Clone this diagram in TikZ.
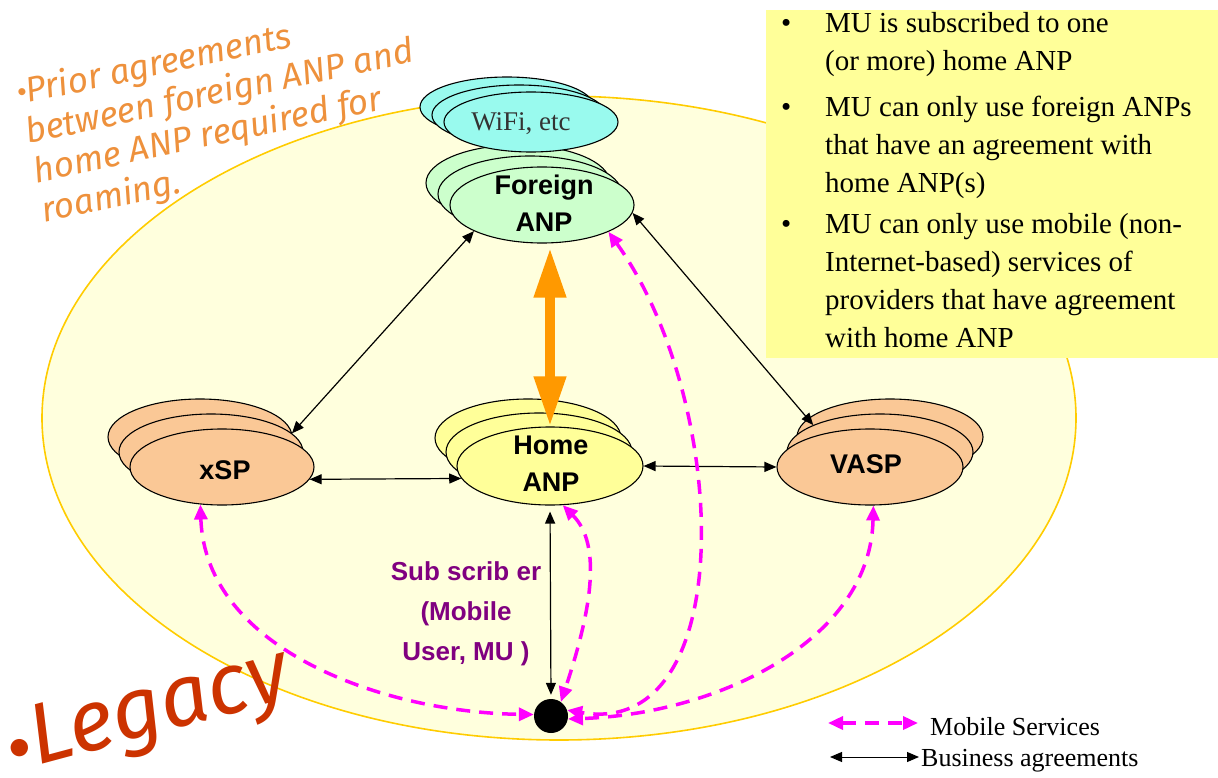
\documentclass[tikz,border=0pt]{standalone}
\usepackage{fontspec}
\setmainfont{Liberation Serif}
\newfontfamily\sansfam{Liberation Sans}
\newfontfamily\handfont{Fira Sans}
\usetikzlibrary{shapes.geometric,arrows.meta}

\definecolor{cream}{RGB}{255,255,221}
\definecolor{rimgold}{RGB}{255,204,0}
\definecolor{noteyellow}{RGB}{255,255,153}
\definecolor{wifiaqua}{RGB}{153,250,238}
\definecolor{foreigngreen}{RGB}{204,255,204}
\definecolor{peach}{RGB}{250,200,150}
\definecolor{homeyellow}{RGB}{255,255,153}
\definecolor{amber}{RGB}{255,153,0}
\definecolor{svcmagenta}{RGB}{255,0,255}
\definecolor{subpurple}{RGB}{128,0,128}
\definecolor{noteorange}{RGB}{238,145,60}
\definecolor{legacyred}{RGB}{204,51,0}

\begin{document}
\begin{tikzpicture}[x=1pt,y=-1pt,
  stackel/.style={ellipse, draw=black, line width=1.1pt, inner sep=0pt},
  nodelabel/.style={font=\sansfam\bfseries\fontsize{27}{37}\selectfont, align=center, inner sep=0pt},
  boxtext/.style={font=\fontsize{29}{38}\selectfont, align=left, inner sep=0pt, anchor=north west},
  legendtext/.style={font=\fontsize{26}{30}\selectfont, inner sep=0pt, anchor=base west},
  handnote/.style={font=\handfont\itshape\fontsize{35}{40}\selectfont, align=left, inner sep=0pt},
  agree/.style={draw=black, line width=1.2pt, {Triangle[length=12pt,width=10pt]}-{Triangle[length=12pt,width=10pt]}},
  service/.style={draw=svcmagenta, line width=3.5pt, dash pattern=on 14pt off 9pt,
    {Triangle[length=15pt,width=13pt]}-{Triangle[length=15pt,width=13pt]}},
  roaming/.style={draw=amber, line width=10pt, {Triangle[length=50pt,width=30pt]}-{Triangle[length=50pt,width=30pt]}}]

\useasboundingbox (0,0) rectangle (1218,778);
\fill[white] (0,0) rectangle (1218,778);

% the legacy domain
\draw[fill=cream, draw=rimgold, line width=1.6pt] (559,418) ellipse [x radius=517pt, y radius=322pt];

% note box
\fill[noteyellow] (766,10) rectangle (1218,358);
\node[boxtext] (note1) at (825,12) {\llap{\textbullet\hspace{34pt}}MU is subscribed to one\\(or more) home ANP};
\node[boxtext] (note2) at (825,96) {\llap{\textbullet\hspace{34pt}}MU can only use foreign ANPs\\that have an agreement with\\home ANP(s)};
\node[boxtext] (note3) at (825,213) {\llap{\textbullet\hspace{34pt}}MU can only use mobile (non-\\Internet-based) services of\\providers that have agreement\\with home ANP};

% foreign access network providers
\node[stackel, fill=foreigngreen, minimum width=184pt, minimum height=76pt] (fanp3) at (518,183) {};
\node[stackel, fill=foreigngreen, minimum width=184pt, minimum height=76pt] (fanp2) at (530,194) {};
\node[stackel, fill=foreigngreen, minimum width=184pt, minimum height=76pt] (fanp) at (542,205) {};
\node[nodelabel] (fanpT) at (544,203) {Foreign\\ANP};

% access technologies
\node[stackel, fill=wifiaqua, minimum width=174pt, minimum height=60pt] (wifi3) at (507,107) {};
\node[stackel, fill=wifiaqua, minimum width=174pt, minimum height=60pt] (wifi2) at (519,115) {};
\node[stackel, fill=wifiaqua, minimum width=174pt, minimum height=60pt] (wifi) at (531,122) {};
\node[font=\fontsize{27}{30}\selectfont, text=black!80, inner sep=0pt] (wifiT) at (521,124) {WiFi, etc};

% service providers
\node[stackel, fill=peach, minimum width=184pt, minimum height=76pt] (xsp3) at (200,437) {};
\node[stackel, fill=peach, minimum width=184pt, minimum height=76pt] (xsp2) at (211,452) {};
\node[stackel, fill=peach, minimum width=184pt, minimum height=76pt] (xsp) at (222,467) {};
\node[nodelabel] (xspT) at (225,470) {xSP};

\node[stackel, fill=homeyellow, minimum width=186pt, minimum height=78pt] (home3) at (528,438) {};
\node[stackel, fill=homeyellow, minimum width=186pt, minimum height=78pt] (home2) at (539,452) {};
\node[stackel, fill=homeyellow, minimum width=186pt, minimum height=78pt] (home) at (550,466) {};
\node[nodelabel] (homeT) at (551,464) {Home\\ANP};

\node[stackel, fill=peach, minimum width=186pt, minimum height=76pt] (vasp3) at (890,437) {};
\node[stackel, fill=peach, minimum width=186pt, minimum height=76pt] (vasp2) at (880,452) {};
\node[stackel, fill=peach, minimum width=186pt, minimum height=76pt] (vasp) at (870,467) {};
\node[nodelabel] (vaspT) at (866,464) {VASP};

% mobile user
\node[circle, fill=black, minimum size=34pt, inner sep=0pt] (mu) at (551,716) {};
\node[font=\sansfam\bfseries\fontsize{26}{40}\selectfont, text=subpurple, align=center, inner sep=0pt] (muT) at (466,614) {Sub scrib er\\(Mobile\\User, MU )};

% business agreements
\draw[agree] (fanp.201) -- (xsp2.13);
\draw[agree] (fanp.-5) -- (vasp2.158);
\draw[agree] (xsp.-8) -- (home.188);
\draw[agree] (home.east) -- (vasp.west);
\draw[agree, shorten <=6pt, shorten >=4pt] (home.south) -- (mu.north);

% roaming agreement
\draw[roaming, shorten <=4pt] (fanp.south -| home.north) -- (home.north);

% mobile services
\draw[service] (xsp.240) .. controls +(5,145) and +(-150,-2) .. (mu.175);
\draw[service] (home.-72) .. controls +(40,40) and +(30,-90) .. (mu.55);
\draw[service] (fanp.-22) .. controls +(122,170) and +(173,30) .. (mu.20);
\draw[service] (vasp.-85) .. controls +(-3,135) and +(150,-5) .. (mu.-10);

% legend
\coordinate (lgA1) at (828,723);
\coordinate (lgA2) at (918,723);
\draw[service] (lgA1) -- (lgA2);
\node[legendtext] (lgT1) at (930,735) {Mobile Services};
\coordinate (lgB1) at (830,757);
\coordinate (lgB2) at (919,757);
\draw[agree, line width=1pt] (lgB1) -- (lgB2);
\node[legendtext] (lgT2) at (921,766) {Business agreements};

% hand-written remarks
\node[handnote, text=noteorange, rotate=12, anchor=north west] (prior) at (14,78)
  {\raisebox{3pt}{\sansfam\upshape\fontsize{26}{26}\selectfont •}Prior agreements\\between foreign ANP and\\home ANP required for\\roaming.};

\node[font=\handfont\itshape\fontsize{86}{86}\selectfont, text=legacyred, rotate=15, anchor=base west, inner sep=0pt] (legacy) at (14,772)
  {\raisebox{0pt}{\sansfam\upshape\fontsize{64}{64}\selectfont •}\hspace{2pt}Legacy};
\end{tikzpicture}
\end{document}
